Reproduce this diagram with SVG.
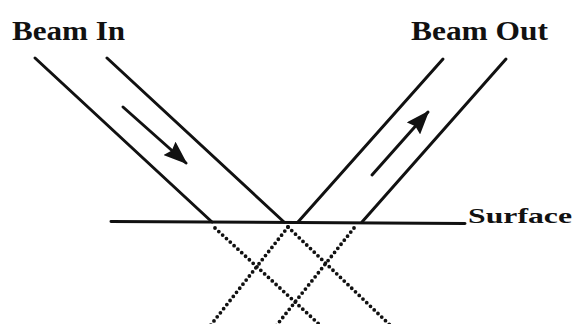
<svg xmlns="http://www.w3.org/2000/svg" width="576" height="324" viewBox="0 0 576 324">
<style>
.l{stroke:#111;stroke-width:3;fill:none;stroke-linecap:round}
.d{stroke:#111;stroke-width:3.8;fill:none;stroke-linecap:round;stroke-dasharray:0 5.2}
.t{font-family:"Liberation Serif","Times New Roman",serif;font-weight:bold;fill:#111}
</style>
<defs>
<marker id="ah" viewBox="0 0 24 18" refX="22" refY="9" markerWidth="24" markerHeight="18" markerUnits="userSpaceOnUse" orient="auto">
<path d="M0,0 L24,9 L0,18 L3,9 Z" fill="#111"/>
</marker>
</defs>
<rect width="576" height="324" fill="#fff"/>
<g id="labels">
<text class="t" x="12" y="40" font-size="27" textLength="113" lengthAdjust="spacingAndGlyphs">Beam In</text>
<text class="t" x="411" y="40" font-size="27" textLength="137" lengthAdjust="spacingAndGlyphs">Beam Out</text>
<text class="t" x="468" y="223" font-size="21" textLength="104" lengthAdjust="spacingAndGlyphs">Surface</text>
</g>
<g id="surface">
<line class="l" x1="111" y1="221.5" x2="465" y2="223.5"/>
</g>
<g id="beam-in">
<line class="l" x1="35" y1="58" x2="212" y2="222"/>
<line class="l" x1="107" y1="58" x2="284" y2="222"/>
</g>
<g id="beam-out">
<line class="l" x1="443" y1="59" x2="298" y2="222"/>
<line class="l" x1="506" y1="59" x2="362" y2="222"/>
</g>
<g id="connectors">
<line class="l" x1="123" y1="107" x2="186" y2="163" marker-end="url(#ah)"/>
<line class="l" x1="372" y1="175" x2="428" y2="112" marker-end="url(#ah)"/>
<line class="d" x1="215" y1="228" x2="321" y2="326"/>
<line class="d" x1="288" y1="227" x2="391" y2="326"/>
<line class="d" x1="288" y1="227" x2="210" y2="326"/>
<line class="d" x1="354" y1="228" x2="276" y2="326"/>
</g>
</svg>
